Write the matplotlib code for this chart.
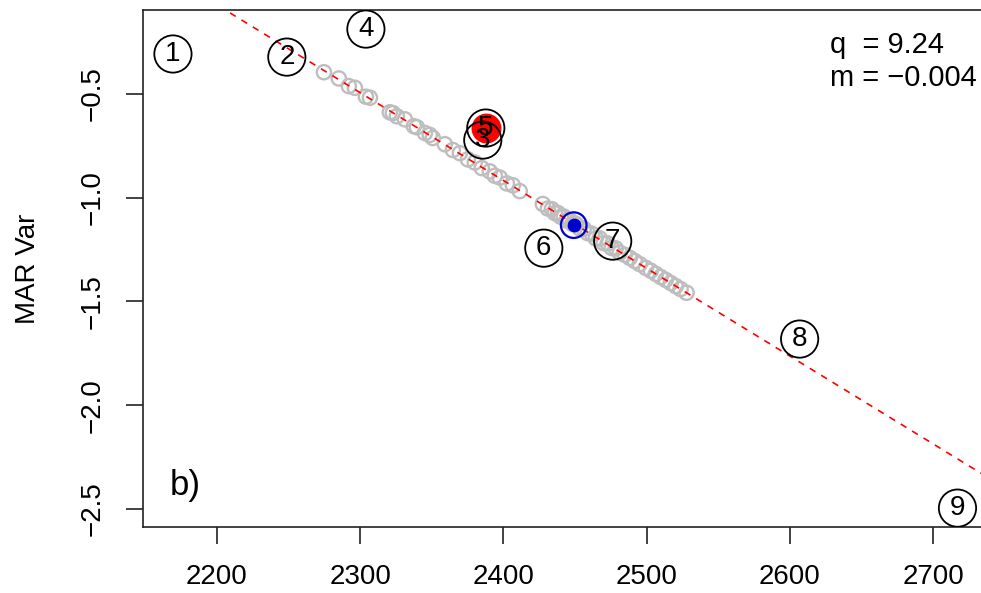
import matplotlib
matplotlib.use("Agg")
import matplotlib.pyplot as plt

plt.rcParams['font.family'] = ['Liberation Sans', 'DejaVu Sans']

# grey cloud of points along the fitted line
cloud_x = [2274.7, 2285.1, 2292.1, 2296.3, 2304.0, 2306.8, 2320.7, 2322.8, 2325.6, 2331.2,
           2337.5, 2339.6, 2345.2, 2348.6, 2350.7, 2359.1, 2364.7, 2369.6, 2375.2, 2380.0,
           2384.9, 2390.5, 2394.0, 2397.5, 2402.4, 2406.6, 2411.4, 2427.5, 2431.0,
           2433.8, 2435.9, 2438.0, 2440.1, 2442.1, 2444.2, 2446.3, 2448.4, 2450.5, 2453.3,
           2456.1, 2458.9, 2461.7, 2464.5, 2467.2, 2470.0, 2472.8, 2475.6, 2478.4, 2481.2,
           2484.7, 2488.2, 2491.7, 2495.2, 2499.4, 2502.9, 2506.4, 2509.8, 2513.3, 2516.8,
           2520.3, 2523.7, 2527.9]
cloud_y = [-0.395, -0.425, -0.462, -0.470, -0.513, -0.518, -0.588, -0.592, -0.607, -0.622,
           -0.655, -0.660, -0.688, -0.697, -0.712, -0.742, -0.770, -0.785, -0.815, -0.830,
           -0.857, -0.873, -0.894, -0.903, -0.931, -0.940, -0.968, -1.030, -1.052,
           -1.055, -1.074, -1.073, -1.092, -1.090, -1.110, -1.108, -1.127, -1.126, -1.148,
           -1.149, -1.171, -1.173, -1.196, -1.196, -1.219, -1.220, -1.242, -1.244, -1.265,
           -1.275, -1.290, -1.305, -1.320, -1.338, -1.352, -1.367, -1.382, -1.396, -1.411,
           -1.426, -1.440, -1.458]

# numbered points
num_labels = ['1', '2', '3', '4', '5', '6', '7', '8', '9']
num_x = [2169.3, 2248.8, 2385.6, 2304.0, 2387.7, 2428.2, 2476.3, 2606.8, 2717.0]
num_y = [-0.307, -0.322, -0.722, -0.187, -0.664, -1.243, -1.209, -1.681, -2.496]

# highlighted points
red_x, red_y = 2387.7, -0.664
blue_x, blue_y = 2449.1, -1.132

# regression line
q = 9.24
m = -0.004232
q_text = "q  = 9.24"
m_text = "m = \u22120.004"

fig = plt.figure(figsize=(9.81, 5.93), dpi=100)
ax = fig.add_axes([143/981, (593-527)/593, (989-143)/981, (527-10)/593])

ax.scatter(cloud_x, cloud_y, s=105, facecolors='none', edgecolors='#bebebe', linewidths=1.7, zorder=2)

xs = [2140, 2760]
ax.plot(xs, [q + m*v for v in xs], color='red', linestyle=(0, (4, 4)), linewidth=1.2, zorder=3)

ax.scatter([red_x], [red_y], s=420, color='red', zorder=4)
ax.scatter([blue_x], [blue_y], s=340, facecolors='none', edgecolors='#0000cc', linewidths=1.6, zorder=4)
ax.scatter([blue_x], [blue_y], s=80, color='#0000cc', zorder=4)

ax.scatter(num_x, num_y, s=720, facecolors='none', edgecolors='black', linewidths=1.3, zorder=5)
for lab, x, y in zip(num_labels, num_x, num_y):
    ax.text(x, y, lab, ha='center', va='center', fontsize=20, zorder=6)

ax.text(2627.8, -0.264, q_text, ha='left', va='center', fontsize=21)
ax.text(2627.8, -0.423, m_text, ha='left', va='center', fontsize=21)
ax.text(2177.7, -2.385, "b)", ha='center', va='center', fontsize=25)

ax.set_xlim(2148.4, 2739)
ax.set_ylim(-2.587, -0.095)
ax.set_xticks([2200, 2300, 2400, 2500, 2600, 2700])
ax.set_yticks([-0.5, -1.0, -1.5, -2.0, -2.5])
ax.set_yticklabels(['\u22120.5', '\u22121.0', '\u22121.5', '\u22122.0', '\u22122.5'],
                   rotation=90, va='center')
ax.tick_params(axis='both', length=12, width=1.2, labelsize=20, color='#222222')
ax.tick_params(axis='x', pad=15)
ax.tick_params(axis='y', pad=15)
ax.spines['right'].set_visible(False)
for s in ['left', 'top', 'bottom']:
    ax.spines[s].set_linewidth(1.2)
    ax.spines[s].set_color('#222222')
ax.set_ylabel('MAR Var', fontsize=20, labelpad=28)

fig.savefig('out.png', dpi=100)
